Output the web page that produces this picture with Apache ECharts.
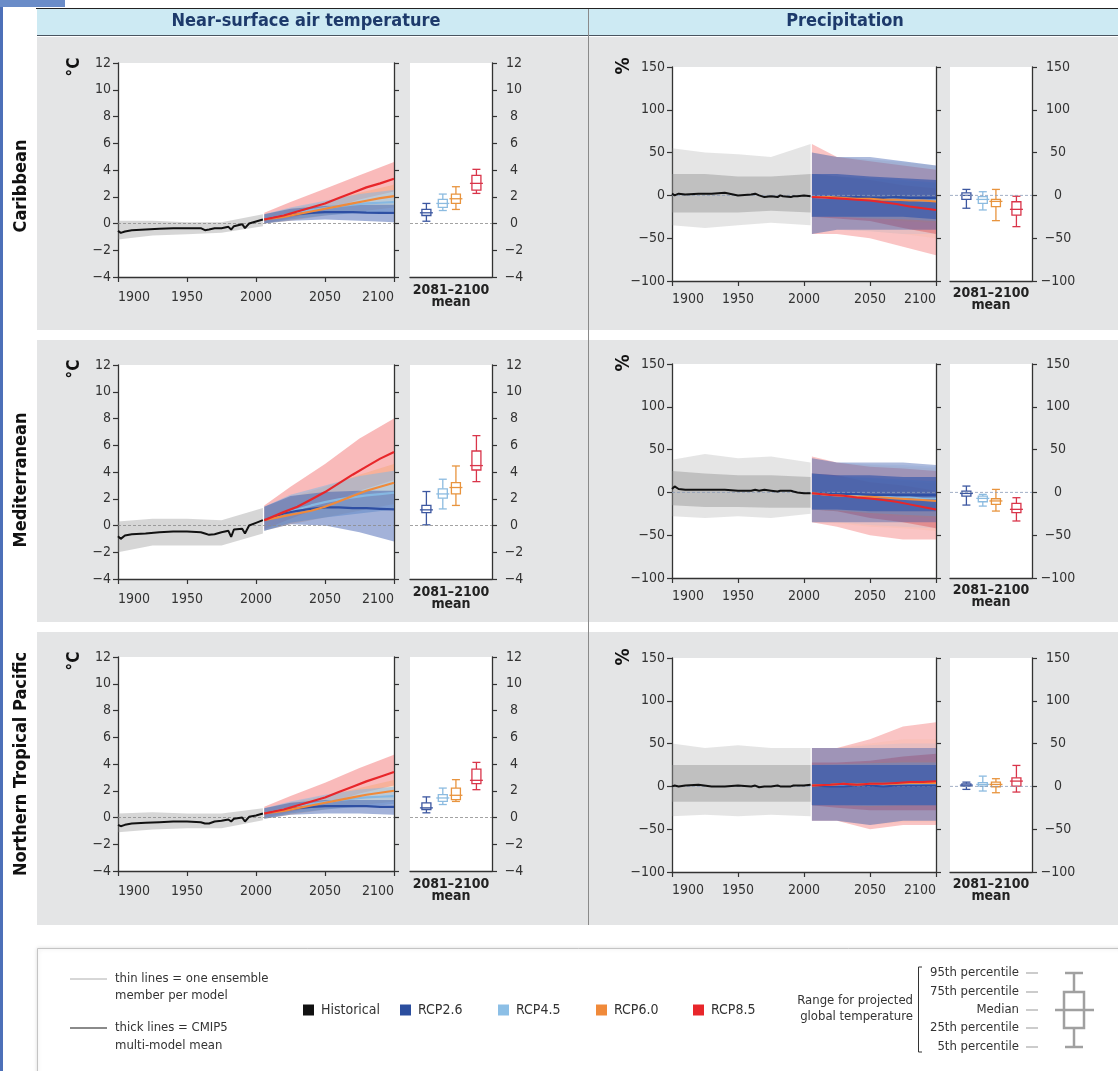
<!DOCTYPE html>
<html>
<head>
<meta charset="utf-8">
<script src="https://cdn.jsdelivr.net/npm/echarts@6/dist/echarts.min.js"></script>
<style>
  html, body { margin: 0; padding: 0; background: #fff; }
  #main { width: 1118px; height: 1071px; }
</style>
</head>
<body>
<div id="main"></div>
<script>
// years
const histYears = [1900, 1902, 1905, 1910, 1920, 1930, 1940, 1950, 1960, 1963, 1966, 1970, 1975, 1980, 1982, 1984, 1990, 1992, 1995, 2000, 2005]
const rcpYears = [2006, 2020, 2030, 2040, 2050, 2060, 2070, 2080, 2090, 2100]
const histBandYears = [1900, 1925, 1950, 1975, 2005]
const rcpBandYears = [2006, 2025, 2050, 2075, 2100]
const scenarios = ['RCP2.6', 'RCP4.5', 'RCP6.0', 'RCP8.5']

// Caribbean, temperature (°C)
const caribTempHist = [-0.55, -0.7, -0.6, -0.5, -0.45, -0.4, -0.35, -0.35, -0.35, -0.5, -0.45, -0.35, -0.35, -0.25, -0.45, -0.2, -0.05, -0.35, 0, 0.15, 0.3]
const caribTempHistRange = [[-1.2, 0.2], [-0.9, 0.2], [-0.8, 0.1], [-0.7, 0.1], [-0.2, 0.7]]
const caribTempRcp = [
  [0.3, 0.55, 0.7, 0.8, 0.85, 0.85, 0.85, 0.82, 0.8, 0.8],
  [0.3, 0.6, 0.8, 1.0, 1.15, 1.3, 1.4, 1.5, 1.55, 1.6],
  [0.3, 0.5, 0.7, 0.9, 1.1, 1.3, 1.5, 1.7, 1.9, 2.05],
  [0.3, 0.6, 0.9, 1.2, 1.5, 1.9, 2.3, 2.7, 3.0, 3.35]
]
const caribTempRcpRange = [
  [[0.0, 0.7], [0.2, 1.1], [0.3, 1.3], [0.2, 1.4], [0.1, 1.4]],
  [[0.0, 0.7], [0.3, 1.2], [0.6, 1.7], [0.8, 2.2], [0.9, 2.5]],
  [[0.0, 0.7], [0.2, 1.1], [0.6, 1.6], [0.9, 2.3], [1.2, 2.9]],
  [[0.0, 0.8], [0.4, 1.6], [1.0, 2.6], [1.8, 3.6], [2.4, 4.6]]
]
const caribTempBox = [[0.17, 0.6, 0.8, 1.05, 1.5], [0.97, 1.2, 1.5, 1.8, 2.2], [1.05, 1.5, 1.85, 2.2, 2.75], [2.25, 2.5, 3.0, 3.6, 4.05]]

// Mediterranean, temperature (°C)
const medTempHist = [-0.8, -1.0, -0.75, -0.65, -0.6, -0.5, -0.45, -0.45, -0.5, -0.6, -0.7, -0.65, -0.5, -0.4, -0.85, -0.3, -0.25, -0.6, 0, 0.2, 0.4]
const medTempHistRange = [[-2.0, 0.3], [-1.5, 0.5], [-1.5, 0.5], [-1.5, 0.4], [-0.6, 1.3]]
const medTempRcp = [
  [0.4, 0.9, 1.1, 1.25, 1.35, 1.35, 1.3, 1.3, 1.25, 1.2],
  [0.4, 0.9, 1.2, 1.5, 1.75, 1.95, 2.1, 2.25, 2.35, 2.45],
  [0.4, 0.7, 0.9, 1.1, 1.4, 1.8, 2.2, 2.6, 2.9, 3.2],
  [0.4, 1.0, 1.4, 1.95, 2.5, 3.15, 3.8, 4.4, 5.0, 5.5]
]
const medTempRcpRange = [
  [[-0.4, 1.4], [0.1, 2.2], [0.0, 2.5], [-0.5, 2.6], [-1.2, 2.6]],
  [[-0.4, 1.4], [0.2, 2.3], [0.6, 3.0], [0.9, 3.7], [1.2, 4.1]],
  [[-0.4, 1.4], [0.1, 2.1], [0.6, 2.9], [1.1, 3.8], [1.6, 4.6]],
  [[-0.3, 1.5], [0.5, 2.9], [1.5, 4.6], [2.6, 6.5], [3.4, 8.0]]
]
const medTempBox = [[0.05, 0.97, 1.17, 1.5, 2.54], [1.24, 2.04, 2.36, 2.74, 3.46], [1.5, 2.36, 2.84, 3.2, 4.45], [3.28, 4.15, 4.48, 5.57, 6.72]]

// Northern Tropical Pacific, temperature (°C)
const ntpTempHist = [-0.55, -0.65, -0.55, -0.45, -0.4, -0.35, -0.3, -0.3, -0.35, -0.45, -0.45, -0.3, -0.25, -0.15, -0.3, -0.1, 0, -0.3, 0.05, 0.15, 0.3]
const ntpTempHistRange = [[-1.1, 0.3], [-0.9, 0.4], [-0.8, 0.3], [-0.8, 0.3], [-0.2, 0.7]]
const ntpTempRcp = [
  [0.3, 0.55, 0.7, 0.8, 0.85, 0.85, 0.85, 0.85, 0.8, 0.8],
  [0.3, 0.6, 0.8, 1.0, 1.15, 1.3, 1.4, 1.5, 1.55, 1.6],
  [0.3, 0.5, 0.7, 0.9, 1.1, 1.3, 1.5, 1.7, 1.85, 2.0],
  [0.3, 0.6, 0.9, 1.2, 1.5, 1.9, 2.3, 2.7, 3.05, 3.4]
]
const ntpTempRcpRange = [
  [[-0.1, 0.7], [0.2, 1.1], [0.3, 1.3], [0.3, 1.3], [0.2, 1.3]],
  [[-0.1, 0.7], [0.3, 1.2], [0.6, 1.7], [0.8, 2.1], [1.0, 2.3]],
  [[-0.1, 0.7], [0.2, 1.1], [0.6, 1.6], [0.9, 2.2], [1.2, 2.8]],
  [[0.0, 0.8], [0.4, 1.6], [1.0, 2.6], [1.8, 3.7], [2.4, 4.7]]
]
const ntpTempBox = [[0.35, 0.6, 0.72, 1.09, 1.54], [0.97, 1.2, 1.46, 1.71, 2.2], [1.2, 1.34, 1.66, 2.2, 2.83], [2.08, 2.53, 2.78, 3.62, 4.12]]

// Caribbean, precipitation (%) - ranges are [outer low, core low, core high, outer high]
const caribPrHist = [2, 0, 2, 1, 2, 2, 3, 0, 1, 2, 0, -2, -1, -2, 0, -1, -2, -1, -1, 0, -1]
const caribPrHistRange = [[-35, -20, 25, 55], [-38, -20, 25, 50], [-35, -20, 22, 48], [-32, -18, 22, 45], [-35, -20, 25, 60]]
const caribPrRcp = [
  [-2, -2, -3, -2, -3, -3, -2, -3, -3, -3],
  [-2, -3, -3, -3, -4, -4, -5, -5, -6, -6],
  [-2, -2, -3, -4, -4, -5, -5, -6, -6, -7],
  [-2, -3, -4, -5, -6, -8, -10, -13, -15, -17]
]
const caribPrRcpRange = [
  [[-45, -25, 25, 50], [-40, -25, 25, 45], [-40, -25, 22, 45], [-40, -25, 20, 40], [-40, -28, 18, 35]],
  [[-45, -25, 25, 50], [-40, -25, 22, 45], [-42, -27, 20, 42], [-45, -28, 18, 40], [-45, -30, 15, 35]],
  [[-45, -25, 25, 50], [-40, -25, 22, 45], [-42, -27, 20, 42], [-45, -30, 16, 38], [-50, -32, 14, 35]],
  [[-45, -25, 25, 60], [-45, -27, 22, 45], [-50, -30, 18, 40], [-60, -38, 12, 35], [-70, -45, 8, 30]]
]
const caribPrBox = [[-15, -4.7, 0, 3, 7], [-17, -9.3, -4.7, -1.5, 4.3], [-29.5, -13, -7, -4.7, 7], [-36.5, -23, -16.3, -7.4, -1]]

// Mediterranean, precipitation (%)
const medPrHist = [4, 7, 4, 3, 3, 3, 3, 2, 2, 3, 2, 3, 2, 1, 2, 2, 2, 1, 0, -1, -1]
const medPrHistRange = [[-28, -15, 25, 38], [-30, -17, 22, 45], [-28, -17, 20, 40], [-30, -18, 20, 42], [-25, -18, 18, 35]]
const medPrRcp = [
  [-1, -2, -2, -2, -3, -3, -3, -3, -3, -3],
  [-1, -3, -4, -4, -5, -5, -6, -6, -7, -7],
  [-1, -3, -4, -5, -5, -6, -7, -8, -9, -10],
  [-1, -3, -4, -6, -7, -9, -11, -14, -17, -20]
]
const medPrRcpRange = [
  [[-35, -20, 22, 40], [-35, -20, 20, 35], [-35, -22, 20, 35], [-35, -22, 18, 35], [-35, -22, 18, 32]],
  [[-35, -20, 22, 40], [-35, -21, 19, 35], [-38, -24, 17, 33], [-40, -26, 15, 32], [-42, -28, 13, 30]],
  [[-35, -20, 22, 40], [-36, -22, 18, 34], [-40, -25, 16, 32], [-42, -28, 13, 30], [-45, -30, 10, 28]],
  [[-35, -20, 22, 42], [-40, -22, 20, 35], [-50, -30, 12, 30], [-55, -35, 8, 28], [-55, -42, 2, 25]]
]
const medPrBox = [[-14.8, -4.3, -1.2, 1.6, 7.4], [-16, -10.9, -7, -4.3, -2.3], [-21.8, -14, -10, -7.4, 3.5], [-33.4, -23.7, -19.8, -12.8, -6.2]]

// Northern Tropical Pacific, precipitation (%)
const ntpPrHist = [0, 1, 0, 1, 2, 0, 0, 1, 0, 1, -1, 0, 0, 1, 0, 0, 0, 1, 1, 1, 2]
const ntpPrHistRange = [[-35, -18, 25, 50], [-33, -18, 25, 45], [-35, -18, 25, 48], [-33, -18, 25, 45], [-35, -18, 25, 45]]
const ntpPrRcp = [
  [1, 0, 0, 1, 1, 0, 1, 1, 1, 1],
  [1, 1, 1, 2, 2, 2, 2, 2, 3, 3],
  [1, 2, 3, 2, 3, 3, 3, 4, 4, 4],
  [1, 2, 3, 2, 3, 3, 4, 5, 5, 6]
]
const ntpPrRcpRange = [
  [[-40, -22, 25, 45], [-40, -22, 25, 45], [-45, -22, 25, 45], [-40, -22, 25, 45], [-40, -22, 25, 45]],
  [[-40, -22, 25, 45], [-40, -22, 26, 45], [-45, -23, 27, 48], [-40, -22, 28, 50], [-40, -22, 28, 50]],
  [[-40, -22, 25, 45], [-40, -22, 26, 45], [-45, -24, 28, 50], [-42, -23, 30, 55], [-42, -22, 30, 55]],
  [[-40, -22, 28, 45], [-40, -25, 28, 45], [-50, -28, 30, 55], [-45, -28, 35, 70], [-45, -28, 38, 75]]
]
const ntpPrBox = [[-3.5, 0.4, 1.5, 3, 5], [-5.4, 0.4, 2.3, 4.3, 12], [-7.4, -0.4, 2.3, 5, 9], [-6.6, 0.4, 6.2, 10, 24.5]]

// legend labels
const percentileLabels = ['95th percentile', '75th percentile', 'Median', '25th percentile', '5th percentile']

// ---- look ----
const FONT = "'Liberation Sans Narrow', 'DejaVu Sans Condensed', 'Noto Sans', sans-serif"
const AXIS = '#333'
const histColor = '#111111'
const rcpColors = ['#2e4fa3', '#86b8e2', '#f08a3a', '#e8262a']
const boxColors = ['#3c57a0', '#8cbbe0', '#e8943e', '#d9354a']
const boxSlots = [0.2, 0.4, 0.56, 0.81]

const layout = {
  temp: { main: [118, 276], box: [410, 82], tops: [63, 365, 657], h: 214, min: -4, max: 12, step: 2, right: 22, xMargin: 13, nameGap: 7 },
  precip: { main: [672, 264], box: [950, 82], tops: [67, 364, 658], h: 214, min: -100, max: 150, step: 50, right: 26, xMargin: 11, nameGap: 6 }
}

const panels = [
  { kind: 'temp', row: 0, hist: caribTempHist, histRange: caribTempHistRange, rcp: caribTempRcp, rcpRange: caribTempRcpRange, box: caribTempBox },
  { kind: 'temp', row: 1, hist: medTempHist, histRange: medTempHistRange, rcp: medTempRcp, rcpRange: medTempRcpRange, box: medTempBox },
  { kind: 'temp', row: 2, hist: ntpTempHist, histRange: ntpTempHistRange, rcp: ntpTempRcp, rcpRange: ntpTempRcpRange, box: ntpTempBox },
  { kind: 'precip', row: 0, hist: caribPrHist, histRange: caribPrHistRange, rcp: caribPrRcp, rcpRange: caribPrRcpRange, box: caribPrBox },
  { kind: 'precip', row: 1, hist: medPrHist, histRange: medPrHistRange, rcp: medPrRcp, rcpRange: medPrRcpRange, box: medPrBox },
  { kind: 'precip', row: 2, hist: ntpPrHist, histRange: ntpPrHistRange, rcp: ntpPrRcp, rcpRange: ntpPrRcpRange, box: ntpPrBox }
]

const minus = v => String(v).replace('-', '\u2212')

// ensemble spread as a filled band (two layers when core range is given)
function bandSeries(xi, yi, years, ranges, color, alphas) {
  return {
    type: 'custom', xAxisIndex: xi, yAxisIndex: yi, silent: true,
    data: [[years[0], ranges[0][0]]],
    encode: { x: 0, y: 1 },
    renderItem: (params, api) => {
      const layers = ranges[0].length === 4 ? [[0, 3], [1, 2]] : [[0, 1]]
      return {
        type: 'group',
        children: layers.map((pair, li) => {
          const pts = years.map((yr, i) => api.coord([yr, ranges[i][pair[1]]]))
          for (let i = years.length - 1; i >= 0; i--) pts.push(api.coord([years[i], ranges[i][pair[0]]]))
          return { type: 'polygon', shape: { points: pts }, style: { fill: color, opacity: alphas[li] } }
        })
      }
    }
  }
}

function lineSeries(xi, yi, years, vals, color, width) {
  return {
    type: 'line', xAxisIndex: xi, yAxisIndex: yi, silent: true, symbol: 'none',
    data: years.map((y, i) => [y, vals[i]]),
    lineStyle: { color, width }
  }
}

function boxSeries(xi, yi, box) {
  return {
    type: 'custom', xAxisIndex: xi, yAxisIndex: yi, silent: true,
    data: box.map((b, i) => [boxSlots[i]].concat(b)),
    encode: { x: 0, y: [1, 2, 3, 4, 5] },
    renderItem: (params, api) => {
      const col = boxColors[params.dataIndex]
      const x = api.value(0)
      const py = d => api.coord([x, api.value(d)])[1]
      const cx = api.coord([x, api.value(3)])[0]
      const y5 = py(1), y25 = py(2), y50 = py(3), y75 = py(4), y95 = py(5)
      const s = { stroke: col, lineWidth: 1.3, fill: null }
      return {
        type: 'group',
        children: [
          { type: 'line', shape: { x1: cx, y1: y5, x2: cx, y2: y25 }, style: s },
          { type: 'line', shape: { x1: cx, y1: y75, x2: cx, y2: y95 }, style: s },
          { type: 'line', shape: { x1: cx - 4, y1: y5, x2: cx + 4, y2: y5 }, style: s },
          { type: 'line', shape: { x1: cx - 4, y1: y95, x2: cx + 4, y2: y95 }, style: s },
          { type: 'rect', shape: { x: cx - 4.5, y: y75, width: 9, height: y25 - y75 }, style: { stroke: col, lineWidth: 1.3, fill: '#fff' } },
          { type: 'line', shape: { x1: cx - 6.5, y1: y50, x2: cx + 6.5, y2: y50 }, style: s }
        ]
      }
    }
  }
}

const grids = [], xAxes = [], yAxes = [], series = []
const axisLine = { show: true, onZero: false, lineStyle: { color: AXIS, width: 1.3 } }
const tickStyle = { show: true, length: 5, lineStyle: { color: AXIS, width: 1.2 } }
const labelStyle = { color: '#333', fontSize: 14, fontFamily: FONT }

panels.forEach(p => {
  const L = layout[p.kind]
  const top = L.tops[p.row]
  const gi = grids.length
  const yi = yAxes.length
  grids.push({ left: L.main[0], top, width: L.main[1], height: L.h, show: true, backgroundColor: '#fff', borderWidth: 0 })
  grids.push({ left: L.box[0], top, width: L.box[1], height: L.h, show: true, backgroundColor: '#fff', borderWidth: 0 })
  xAxes.push({
    gridIndex: gi, type: 'value', min: 1900, max: 2100, interval: 50,
    axisLine, axisTick: tickStyle, splitLine: { show: false },
    axisLabel: Object.assign({
      margin: L.xMargin, showMinLabel: true, showMaxLabel: true,
      alignMinLabel: 'left', alignMaxLabel: 'right', formatter: v => String(v)
    }, labelStyle)
  })
  xAxes.push({
    gridIndex: gi + 1, type: 'value', min: 0, max: 1,
    axisLine, axisTick: { show: false }, axisLabel: { show: false }, splitLine: { show: false },
    name: '2081\u20132100\nmean', nameLocation: 'middle', nameGap: L.nameGap,
    nameTextStyle: { fontFamily: FONT, fontWeight: 'bold', fontSize: 14, lineHeight: 12, color: '#222' }
  })
  const yBase = { type: 'value', min: L.min, max: L.max, interval: L.step, splitLine: { show: false }, axisLine, axisTick: tickStyle }
  yAxes.push(Object.assign({ gridIndex: gi, position: 'left', axisLabel: Object.assign({ margin: 7, formatter: minus }, labelStyle) }, yBase))
  yAxes.push(Object.assign({ gridIndex: gi, position: 'right', axisLabel: { show: false } }, yBase))
  yAxes.push(Object.assign({ gridIndex: gi + 1, position: 'right', axisLabel: Object.assign({ margin: L.right, align: 'center', formatter: minus }, labelStyle) }, yBase))

  const isPr = p.kind === 'precip'
  const zeroCol = isPr ? '#8a9ab8' : '#8c8c8c'
  series.push({ type: 'line', xAxisIndex: gi, yAxisIndex: yi, silent: true, symbol: 'none', data: [[1900, 0], [2100, 0]], lineStyle: { color: zeroCol, width: 0.8, type: [3, 2] } })
  series.push({ type: 'line', xAxisIndex: gi + 1, yAxisIndex: yi + 2, silent: true, symbol: 'none', data: [[0, 0], [1, 0]], lineStyle: { color: zeroCol, width: 0.8, type: [3, 2] } })

  // spread
  series.push(bandSeries(gi, yi, histBandYears, p.histRange, '#8a8a8a', isPr ? [0.22, 0.4] : [0.35]))
  series.push(bandSeries(gi, yi, rcpBandYears, p.rcpRange[3], '#ee3a3a', isPr ? [0.3, 0.45] : [0.35]))
  series.push(bandSeries(gi, yi, rcpBandYears, p.rcpRange[2], '#f29a50', isPr ? [0.08, 0.25] : [0.3]))
  series.push(bandSeries(gi, yi, rcpBandYears, p.rcpRange[1], '#86b8e2', isPr ? [0.15, 0.45] : [0.55]))
  series.push(bandSeries(gi, yi, rcpBandYears, p.rcpRange[0], '#3354ab', isPr ? [0.4, 0.65] : [0.45]))

  // multi-model means
  const w = isPr ? 2 : 2.2
  series.push(lineSeries(gi, yi, histYears, p.hist, histColor, 2))
  series.push(lineSeries(gi, yi, rcpYears, p.rcp[1], rcpColors[1], w))
  series.push(lineSeries(gi, yi, rcpYears, p.rcp[0], rcpColors[0], w))
  series.push(lineSeries(gi, yi, rcpYears, p.rcp[2], rcpColors[2], w))
  series.push(lineSeries(gi, yi, rcpYears, p.rcp[3], rcpColors[3], w))

  // 2081-2100 ranges
  series.push(boxSeries(gi + 1, yi + 2, p.box))
})

// ---- frame, titles and legend ----
const txt = (x, y, text, opt) => ({
  type: 'text', x, y, z: 100, silent: true,
  rotation: opt && opt.rot ? Math.PI / 2 : 0,
  style: Object.assign({ text, fontFamily: FONT, fontSize: 14, fill: '#333', align: 'left', verticalAlign: 'middle' }, opt && opt.style)
})
const hline = (x1, x2, y, stroke, lineWidth) => ({ type: 'line', z: 100, silent: true, shape: { x1, y1: y, x2, y2: y }, style: { stroke, lineWidth } })

const graphics = [
  { type: 'rect', z: -20, silent: true, shape: { x: 0, y: 0, width: 3, height: 1071 }, style: { fill: '#4d70b8' } },
  { type: 'rect', z: -20, silent: true, shape: { x: 0, y: 0, width: 65, height: 7 }, style: { fill: '#6a8cc8' } },
  { type: 'rect', z: -20, silent: true, shape: { x: 37, y: 9, width: 1081, height: 26 }, style: { fill: '#cdeaf3' } },
  hline(36, 1118, 8.5, '#222', 1.2),
  hline(37, 1118, 35.5, '#4a5560', 1.2),
  txt(306, 21, 'Near-surface air temperature', { style: { align: 'center', fontSize: 18, fontWeight: 'bold', fill: '#1d3a6b' } }),
  txt(845, 21, 'Precipitation', { style: { align: 'center', fontSize: 18, fontWeight: 'bold', fill: '#1d3a6b' } }),
  { type: 'rect', z: -20, silent: true, shape: { x: 37, y: 37, width: 1081, height: 293 }, style: { fill: '#e4e5e6' } },
  { type: 'rect', z: -20, silent: true, shape: { x: 37, y: 340, width: 1081, height: 282 }, style: { fill: '#e4e5e6' } },
  { type: 'rect', z: -20, silent: true, shape: { x: 37, y: 632, width: 1081, height: 293 }, style: { fill: '#e4e5e6' } },
  { type: 'line', z: 100, silent: true, shape: { x1: 588.5, y1: 9, x2: 588.5, y2: 925 }, style: { stroke: '#8a8a8a', lineWidth: 1 } },
  txt(21, 186, 'Caribbean', { rot: true, style: { align: 'center', fontSize: 18, fontWeight: 'bold', fill: '#111' } }),
  txt(21, 480, 'Mediterranean', { rot: true, style: { align: 'center', fontSize: 18, fontWeight: 'bold', fill: '#111' } }),
  txt(21, 764, 'Northern Tropical Pacific', { rot: true, style: { align: 'center', fontSize: 18, fontWeight: 'bold', fill: '#111' } })
]
layout.temp.tops.forEach(t => graphics.push(txt(75, t + 4, '\u00b0C', { rot: true, style: { align: 'center', fontSize: 17, fontWeight: 'bold', fill: '#111' } })))
layout.precip.tops.forEach(t => graphics.push(txt(624, t - 1, '%', { rot: true, style: { align: 'center', fontSize: 19, fontWeight: 'bold', fill: '#111' } })))

// legend box
graphics.push({ type: 'rect', z: 50, silent: true, shape: { x: 37.5, y: 948.5, width: 1085, height: 130 }, style: { fill: '#fff', stroke: '#c4c4c4', lineWidth: 1, shadowBlur: 4, shadowColor: 'rgba(0,0,0,0.15)' } })
graphics.push(hline(70, 107, 979, '#9a9a9a', 0.8))
graphics.push(hline(70, 107, 1028, '#8a8a8a', 2))
graphics.push(txt(115, 979, 'thin lines = one ensemble', { style: { fontSize: 13 } }))
graphics.push(txt(115, 996, 'member per model', { style: { fontSize: 13 } }))
graphics.push(txt(115, 1028, 'thick lines = CMIP5', { style: { fontSize: 13 } }))
graphics.push(txt(115, 1046, 'multi-model mean', { style: { fontSize: 13 } }))
const legendNames = ['Historical'].concat(scenarios)
const legendColors = [histColor].concat(['#2b4e9e', '#8cbfe6', '#f08a3a', '#e8262a'])
const legendX = [303, 400, 498, 596, 693]
legendNames.forEach((n, i) => {
  graphics.push({ type: 'rect', z: 100, silent: true, shape: { x: legendX[i], y: 1004.5, width: 11, height: 11 }, style: { fill: legendColors[i] } })
  graphics.push(txt(legendX[i] + 18, 1010, n, { style: { fontSize: 14 } }))
})
graphics.push(txt(913, 1001, 'Range for projected', { style: { align: 'right', fontSize: 13 } }))
graphics.push(txt(913, 1017, 'global temperature', { style: { align: 'right', fontSize: 13 } }))
graphics.push({ type: 'polyline', z: 100, silent: true, shape: { points: [[922, 967], [918.5, 967], [918.5, 1052], [922, 1052]] }, style: { stroke: '#333', lineWidth: 1, fill: null } })
const pctY = [973, 992, 1010, 1028, 1047]
percentileLabels.forEach((l, i) => {
  graphics.push(txt(1019, pctY[i], l, { style: { align: 'right', fontSize: 13 } }))
  graphics.push(hline(1026, 1038, pctY[i], '#999', 1))
})
graphics.push({ type: 'line', z: 100, silent: true, shape: { x1: 1074, y1: 973, x2: 1074, y2: 1047 }, style: { stroke: '#a0a0a0', lineWidth: 2.5 } })
graphics.push(hline(1065, 1083, 973, '#a0a0a0', 2.5))
graphics.push(hline(1065, 1083, 1047, '#a0a0a0', 2.5))
graphics.push({ type: 'rect', z: 101, silent: true, shape: { x: 1064, y: 992, width: 20, height: 36 }, style: { fill: '#fff', stroke: '#a0a0a0', lineWidth: 2.5 } })
graphics.push(Object.assign(hline(1055, 1094, 1010, '#a0a0a0', 2.5), { z: 102 }))

const chart = echarts.init(document.getElementById('main'))
chart.setOption({
  animation: false,
  backgroundColor: '#fff',
  textStyle: { fontFamily: FONT },
  grid: grids,
  xAxis: xAxes,
  yAxis: yAxes,
  series,
  graphic: { elements: graphics }
})
</script>
</body>
</html>
